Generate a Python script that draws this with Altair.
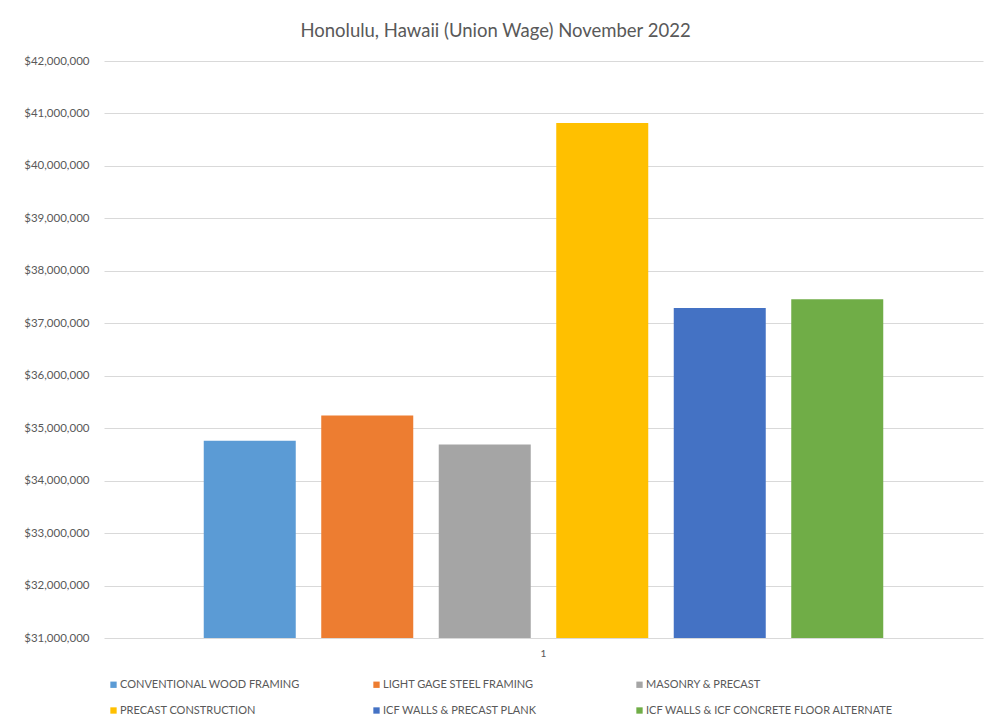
import altair as alt
import pandas as pd

# ---- data ----
series = [
    "CONVENTIONAL WOOD FRAMING",
    "LIGHT GAGE STEEL FRAMING",
    "MASONRY & PRECAST",
    "PRECAST CONSTRUCTION",
    "ICF WALLS & PRECAST PLANK",
    "ICF WALLS & ICF CONCRETE FLOOR ALTERNATE",
]
costs = [34760000, 35240000, 34690000, 40820000, 37290000, 37460000]
category = ["1"] * len(series)
colors = ["#5B9BD5", "#ED7D31", "#A5A5A5", "#FFC000", "#4472C4", "#70AD47"]
y_ticks = [31000000, 32000000, 33000000, 34000000, 35000000, 36000000,
           37000000, 38000000, 39000000, 40000000, 41000000, 42000000]
title_text = "Honolulu, Hawaii (Union Wage) November 2022"

df = pd.DataFrame({"cat": category, "series": series, "cost": costs})

FONT = "Lato"
TXT = "#595959"

chart = (
    alt.Chart(df)
    .mark_bar()
    .encode(
        x=alt.X(
            "cat:N",
            title=None,
            scale=alt.Scale(paddingInner=0, paddingOuter=0.1234),
            axis=alt.Axis(
                labelAngle=0, ticks=False, domain=False, grid=False,
                labelColor=TXT, labelFontSize=10, labelFont=FONT, labelPadding=10,
            ),
        ),
        xOffset=alt.XOffset(
            "series:N",
            sort=series,
            scale=alt.Scale(domain=series, paddingInner=0.217, paddingOuter=0.1085),
        ),
        y=alt.Y(
            "cost:Q",
            title=None,
            scale=alt.Scale(domain=[y_ticks[0], y_ticks[-1]], zero=False, nice=False),
            axis=alt.Axis(
                format="$,.0f", values=y_ticks, labelOverlap=False,
                ticks=False, domain=False, gridColor="#D9D9D9", gridWidth=1,
                labelColor=TXT, labelFontSize=11.5, labelFont=FONT, labelPadding=15,
            ),
        ),
        y2=alt.datum(y_ticks[0]),
        color=alt.Color(
            "series:N",
            sort=series,
            scale=alt.Scale(domain=series, range=colors),
            legend=alt.Legend(
                title=None, orient="none", legendX=4, legendY=618,
                direction="horizontal", columns=3, columnPadding=3, rowPadding=14,
                gridAlign="all",
                symbolType="square", symbolSize=40, symbolStrokeWidth=0,
                labelFontSize=11, labelColor=TXT, labelFont=FONT, labelOffset=1,
                labelLimit=400,
            ),
        ),
    )
    .properties(
        width=879,
        height=577,
        title=alt.TitleParams(
            text=title_text, fontSize=18.5, font=FONT, fontWeight="normal",
            color=TXT, anchor="middle", dx=-48, offset=15,
        ),
        autosize=alt.AutoSizeParams(type="none"),
        padding={"left": 104, "top": 61, "right": 4, "bottom": 87},
        background="white",
    )
    .configure_view(stroke=None)
)

chart.save("out.html", embed_options={"renderer": "svg", "actions": False})
